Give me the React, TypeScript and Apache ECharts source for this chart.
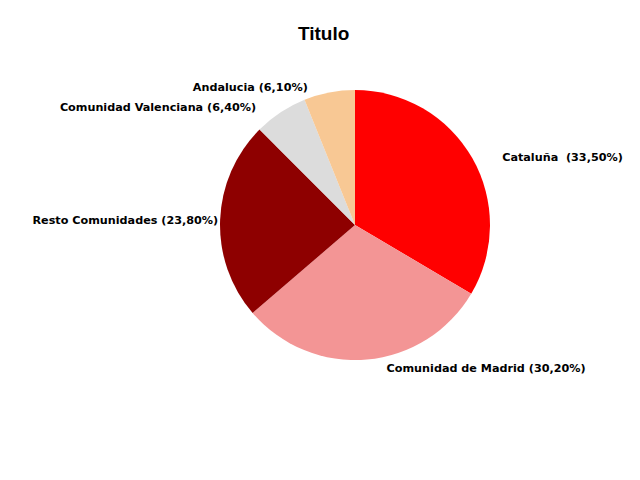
import React, { useEffect, useRef } from "react";
import * as echarts from "echarts";

const categories = [
  "Cataluña ",
  "Comunidad de Madrid",
  "Resto Comunidades",
  "Comunidad Valenciana",
  "Andalucia",
];
const values = [33.5, 30.2, 23.8, 6.4, 6.1];
const labels = ["(33,50%)", "(30,20%)", "(23,80%)", "(6,40%)", "(6,10%)"];
const colors = ["#FF0000", "#F39595", "#8E0000", "#DCDCDC", "#F8C894"];
const labelShift = [
  [18, 3],
  [14, 1],
  [11, 1],
  [-15, 2],
  [-15, 3],
];

export default function App() {
  const ref = useRef<HTMLDivElement>(null);
  useEffect(() => {
    document.body.style.margin = "0";
    const chart = echarts.init(ref.current!, null, { renderer: "svg" });
    chart.setOption({
      animation: false,
      backgroundColor: "#FFFFFF",
      title: {
        text: "Titulo",
        left: 293,
        top: 19,
        textStyle: {
          fontFamily: "Liberation Sans, Arial, sans-serif",
          fontWeight: "bold",
          fontSize: 19,
          color: "#000",
        },
      },
      series: [
        {
          type: "pie",
          center: [355, 225],
          radius: 135,
          startAngle: 90,
          clockwise: true,
          data: categories.map((name, i) => ({
            name,
            value: values[i],
            itemStyle: { color: colors[i] },
            label: { formatter: `${name} ${labels[i]}` },
          })),
          label: {
            show: true,
            position: "outside",
            overflow: "none",
            edgeDistance: 2,
            fontFamily: "DejaVu Sans, sans-serif",
            fontWeight: "bold",
            fontSize: 11.2,
            color: "#000",
          },
          labelLine: { show: false, length: 8, length2: 0 },
          labelLayout: (p: any) => ({
            dx: labelShift[p.dataIndex][0],
            dy: labelShift[p.dataIndex][1],
          }),
          emphasis: { disabled: true },
        },
      ],
    });
    return () => chart.dispose();
  }, []);
  return <div ref={ref} style={{ width: 640, height: 480 }} />;
}
